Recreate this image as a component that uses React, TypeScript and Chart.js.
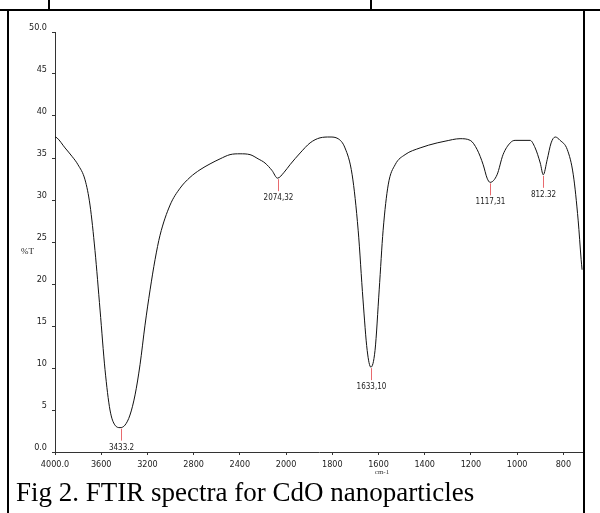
import React, { useEffect, useRef } from 'react';
import { Chart, registerables, LinearScale } from 'chart.js';

Chart.register(...registerables);

// ---- data ----
const wavenumbers = [
  4000, 3983, 3913, 3853, 3801, 3740, 3697, 3654, 3610, 3567, 3524, 3481, 3437, 3394, 3351, 3307,
  3264, 3221, 3177, 3134, 3091, 3004, 2918, 2831, 2745, 2658, 2571, 2485, 2398, 2312, 2242, 2182,
  2121, 2074, 2017, 1983, 1939, 1896, 1853, 1810, 1775, 1745, 1714, 1688, 1667, 1649, 1633, 1615,
  1597, 1580, 1558, 1528, 1485, 1420, 1346, 1312, 1247, 1203, 1173, 1147, 1130, 1117, 1087, 1061,
  1030, 1009, 944, 922, 900, 887, 870, 853, 835, 814, 783, 757, 736, 723, 719,
];
const transmittance = [
  37.5, 37.4, 36.2, 35.2, 34.2, 32.4, 29.4, 24.0, 16.9, 9.8, 5.0, 3.2, 2.9, 3.2, 4.4, 6.8,
  10.4, 15.1, 19.3, 22.9, 25.8, 29.4, 31.4, 32.7, 33.6, 34.3, 34.9, 35.4, 35.5, 35.4, 34.9, 34.4,
  33.5, 32.6, 33.3, 34.2, 35.6, 36.8, 37.4, 37.5, 37.3, 36.2, 33.0, 26.4, 18.1, 12.1, 10.1, 12.1,
  19.3, 26.4, 31.8, 34.2, 35.4, 36.2, 36.8, 37.0, 37.3, 37.1, 36.0, 34.2, 32.6, 32.1, 33.0, 35.4,
  36.8, 37.1, 37.1, 36.2, 34.4, 33.0, 34.8, 36.8, 37.5, 37.1, 36.0, 33.0, 27.6, 22.9, 21.7,
];
const xTickValues = [4000, 3600, 3200, 2800, 2400, 2000, 1800, 1600, 1400, 1200, 1000, 800];
const yTickValues = [0, 5, 10, 15, 20, 25, 30, 35, 40, 45, 50];
const peakWavenumbers = [3433, 2074, 1633, 1117, 887];
const peakTransmittance = [2.9, 32.6, 10.1, 32.1, 33.0];
const peakLabels = ['3433.2', '2074,32', '1633,10', '1117,31', '812.32'];

const X_MIN = 715;
const X_MAX = 4000;
const BREAK = 2000;

// FTIR axis: the 4000-2000 part is compressed 2x relative to 2000-low.
function toU(v: number) {
  return v >= BREAK ? (X_MAX - v) / 2 : (X_MAX - BREAK) / 2 + (BREAK - v);
}

class FtirScale extends LinearScale {
  static id = 'ftir';
  static defaults = {};
  buildTicks() {
    return xTickValues.map((v) => ({ value: v }));
  }
  getPixelForValue(value: number) {
    const span = toU(this.min);
    return this.getPixelForDecimal(toU(value) / span);
  }
  getValueForPixel(pixel: number) {
    const u = this.getDecimalForPixel(pixel) * toU(this.min);
    const half = (X_MAX - BREAK) / 2;
    return u <= half ? X_MAX - 2 * u : BREAK - (u - half);
  }
}
Chart.register(FtirScale as any);

const TICK_FONT = "'Liberation Sans Narrow', 'DejaVu Sans Condensed', sans-serif";

const peakPlugin = {
  id: 'peaks',
  afterDatasetsDraw(chart: any) {
    const { ctx } = chart;
    const xs = chart.scales.x;
    const ys = chart.scales.y;
    ctx.save();
    peakWavenumbers.forEach((w, i) => {
      const px = Math.round(xs.getPixelForValue(w)) + 0.5;
      const py = ys.getPixelForValue(peakTransmittance[i]);
      ctx.strokeStyle = '#e86a6e';
      ctx.lineWidth = 1;
      ctx.beginPath();
      ctx.moveTo(px, py + 1);
      ctx.lineTo(px, py + 13);
      ctx.stroke();
      ctx.fillStyle = '#222';
      ctx.font = `8px ${TICK_FONT}`;
      ctx.textAlign = 'center';
      ctx.textBaseline = 'middle';
      ctx.fillText(peakLabels[i], px, py + 20);
    });
    ctx.restore();
  },
};

export default function App() {
  const canvasRef = useRef<HTMLCanvasElement | null>(null);

  useEffect(() => {
    const canvas = canvasRef.current;
    if (!canvas) return;
    const chart = new Chart(canvas, {
      type: 'line',
      data: {
        datasets: [
          {
            data: wavenumbers.map((w, i) => ({ x: w, y: transmittance[i] })),
            borderColor: '#111',
            borderWidth: 1,
            pointRadius: 0,
            fill: false,
            cubicInterpolationMode: 'monotone',
          },
        ],
      },
      options: {
        animation: false,
        responsive: false,
        maintainAspectRatio: false,
        devicePixelRatio: 1,
        events: [],
        layout: { padding: { top: 21, left: 0, right: 0, bottom: 0 } },
        plugins: { legend: { display: false }, tooltip: { enabled: false }, title: { display: false } },
        scales: {
          x: {
            type: 'ftir' as any,
            min: X_MIN,
            max: X_MAX,
            afterFit: (s: any) => {
              s.height = 29;
            },
            ticks: {
              autoSkip: false,
              maxRotation: 0,
              padding: 4,
              color: '#222',
              font: { family: TICK_FONT, size: 9 },
              callback: (v: any) => (v === 4000 ? '4000.0' : String(v)),
            },
            grid: { drawOnChartArea: false, drawTicks: true, tickLength: 3, color: '#333' },
            border: { display: true, color: '#333', width: 1 },
          } as any,
          y: {
            type: 'linear',
            min: 0,
            max: 50,
            afterBuildTicks: (s: any) => {
              s.ticks = yTickValues.map((v) => ({ value: v }));
            },
            afterFit: (s: any) => {
              s.width = 46;
            },
            ticks: {
              padding: 5,
              labelOffset: -4,
              color: '#222',
              font: { family: TICK_FONT, size: 9 },
              callback: (v: any) => (v === 0 || v === 50 ? Number(v).toFixed(1) : String(v)),
            },
            grid: { drawOnChartArea: false, drawTicks: true, tickLength: 3, color: '#333' },
            border: { display: true, color: '#333', width: 1 },
          },
        },
      },
      plugins: [peakPlugin],
    } as any);
    return () => chart.destroy();
  }, []);

  const line = (l: number, t: number, w: number, h: number) => ({
    position: 'absolute' as const,
    left: l,
    top: t,
    width: w,
    height: h,
    background: '#000',
  });

  return (
    <div style={{ position: 'absolute', left: 0, top: 0, width: 600, height: 513, overflow: 'hidden', background: '#fff' }}>
      <canvas
        ref={canvasRef}
        width={574}
        height={470}
        style={{ position: 'absolute', left: 9, top: 11, width: 574, height: 470 }}
      />
      <div
        style={{
          position: 'absolute',
          left: 21,
          top: 245,
          font: "9px 'Liberation Serif', serif",
          lineHeight: '12px',
          color: '#222',
        }}
      >
        %T
      </div>
      <div
        style={{
          position: 'absolute',
          left: 372,
          top: 467,
          width: 20,
          textAlign: 'center',
          font: "7px 'Liberation Serif', serif",
          lineHeight: '10px',
          color: '#333',
        }}
      >
        cm-1
      </div>
      <div
        style={{
          position: 'absolute',
          left: 16,
          top: 479,
          font: "27px 'Liberation Serif', 'Times New Roman', serif",
          lineHeight: '27px',
          color: '#000',
          whiteSpace: 'nowrap',
        }}
      >
        Fig 2. FTIR spectra for CdO nanoparticles
      </div>
      <div style={line(0, 9, 600, 2)} />
      <div style={line(48, 0, 2, 10)} />
      <div style={line(370, 0, 2, 10)} />
      <div style={line(7, 9, 2, 504)} />
      <div style={line(583, 9, 2, 504)} />
    </div>
  );
}
